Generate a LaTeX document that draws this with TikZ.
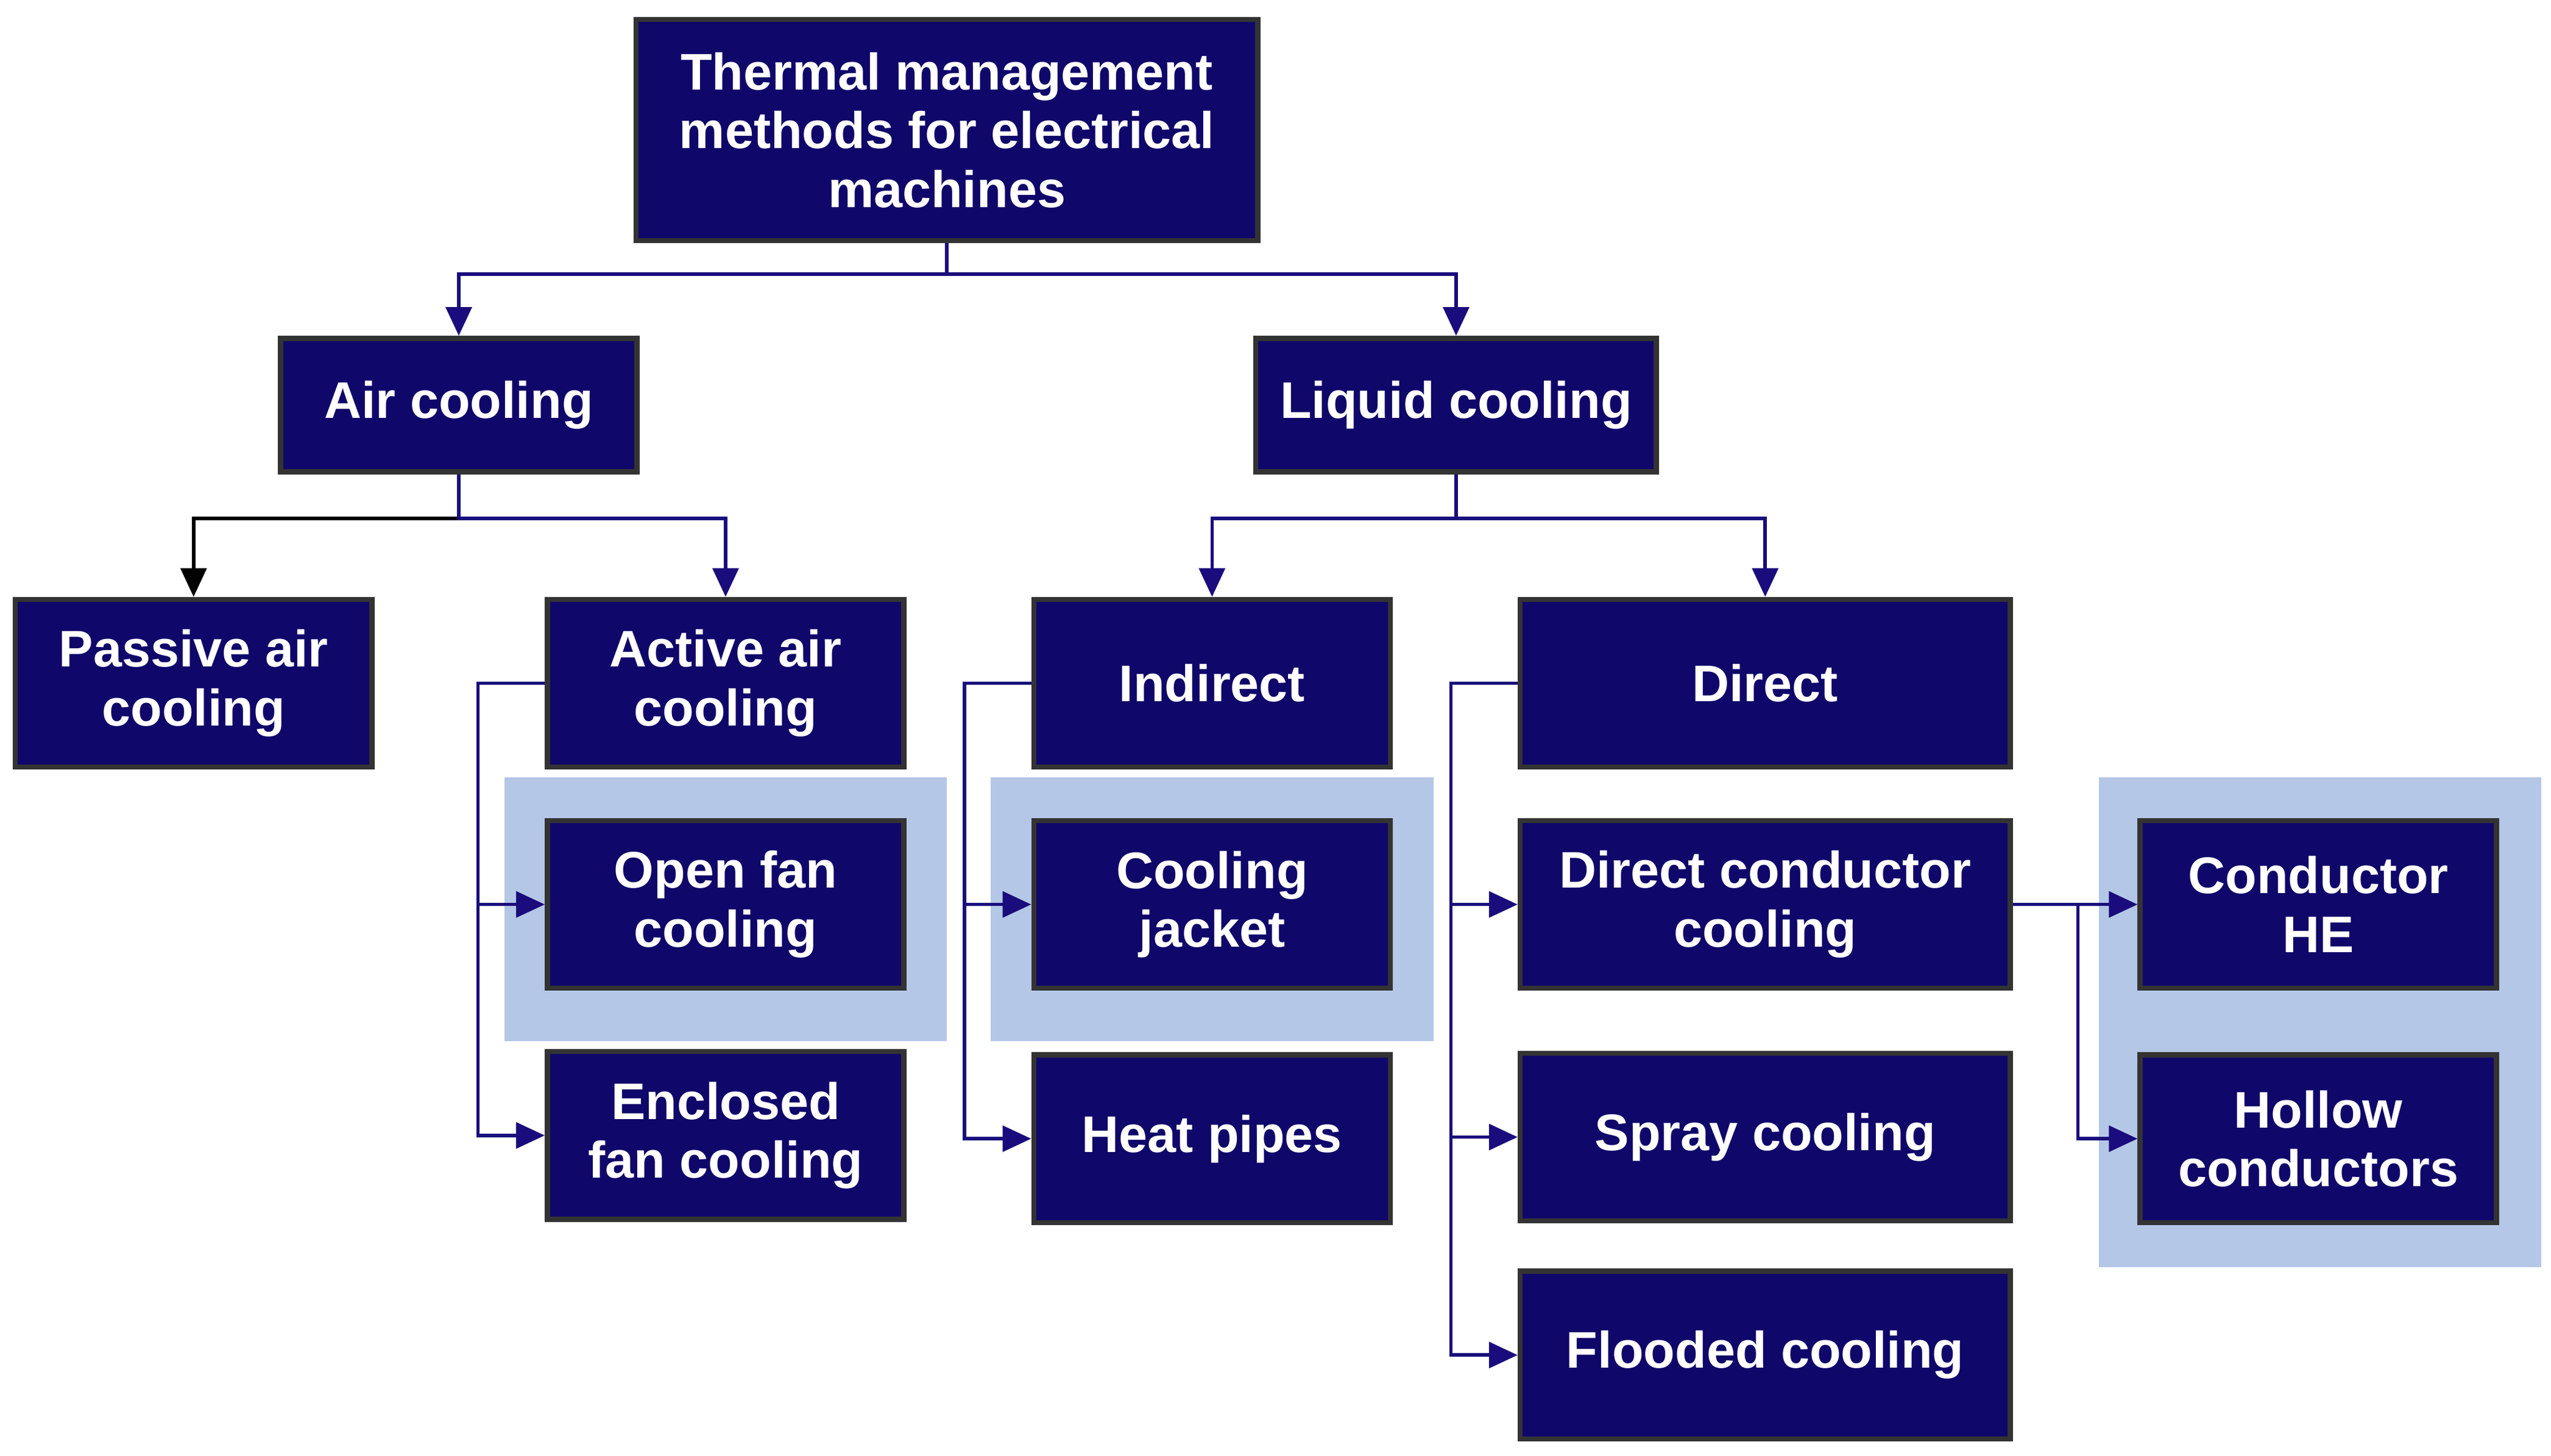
\documentclass[tikz,border=0pt]{standalone}
\usepackage{fontspec}
\setmainfont{Liberation Sans}
\usetikzlibrary{arrows.meta}
\definecolor{boxnavy}{HTML}{10076A}
\definecolor{linenavy}{HTML}{1A0C7C}
\definecolor{hilite}{HTML}{B4C7E7}
\begin{document}
\begin{tikzpicture}[x=0.01cm,y=-0.01cm,
  box/.style={draw=black!80, line width=0.9pt, fill=boxnavy, text=white,
    font=\fontsize{9}{10.3}\selectfont\bfseries, align=center,
    minimum width=2.19cm, minimum height=1.03cm, inner sep=0pt},
  conn/.style={draw=linenavy, line width=0.6pt, -{Triangle[length=5pt,width=4.5pt]}}]

\useasboundingbox (0,0) rectangle (1568,895);

% highlight areas
\fill [hilite] (310,478) rectangle (582,640);
\fill [hilite] (609,478) rectangle (881,640);
\fill [hilite] (1290,478) rectangle (1562,779);

\node [box, minimum width=3.82cm, minimum height=1.36cm] (top) at (582,80) {Thermal management\\methods for electrical\\machines};
\node [box, minimum height=0.82cm] (air) at (282,249) {Air cooling};
\node [box, minimum width=2.46cm, minimum height=0.82cm] (liquid) at (895,249) {Liquid cooling};

\node [box] (passive) at (119,420) {Passive air\\cooling};
\node [box] (active) at (446,420) {Active air\\cooling};
\node [box] (openfan) at (446,556) {Open fan\\cooling};
\node [box] (enclosed) at (446,698) {Enclosed\\fan cooling};

\node [box] (indirect) at (745,420) {Indirect};
\node [box] (jacket) at (745,556) {Cooling\\jacket};
\node [box] (pipes) at (745,700) {Heat pipes};

\node [box, minimum width=3.01cm] (direct) at (1085,420) {Direct};
\node [box, minimum width=3.01cm] (dcc) at (1085,556) {Direct conductor\\cooling};
\node [box, minimum width=3.01cm] (spray) at (1085,699) {Spray cooling};
\node [box, minimum width=3.01cm] (flooded) at (1085,833) {Flooded cooling};

\node [box] (condhe) at (1425,556) {Conductor\\HE};
\node [box] (hollow) at (1425,700) {Hollow\\conductors};

% tree connectors
\draw [conn] (top.south) -- ++(0,19) -| (air.north);
\draw [conn] (top.south) -- ++(0,19) -| (liquid.north);
\draw [conn, draw=black] (air.south) -- ++(0,27) -| (passive.north);
\draw [conn] (air.south) -- ++(0,27) -| (active.north);
\draw [conn] (liquid.south) -- ++(0,27) -| (indirect.north);
\draw [conn] (liquid.south) -- ++(0,27) -| (direct.north);

% side connectors
\foreach \a/\b in {active/openfan, active/enclosed, indirect/jacket, indirect/pipes, direct/dcc, direct/spray, direct/flooded} {
  \draw [conn] (\a.west) -- ++(-41,0) |- (\b.west);
}
\draw [conn] (dcc.east) -- (condhe.west);
\draw [conn] (dcc.east) -- ++(40,0) |- (hollow.west);
\end{tikzpicture}
\end{document}
